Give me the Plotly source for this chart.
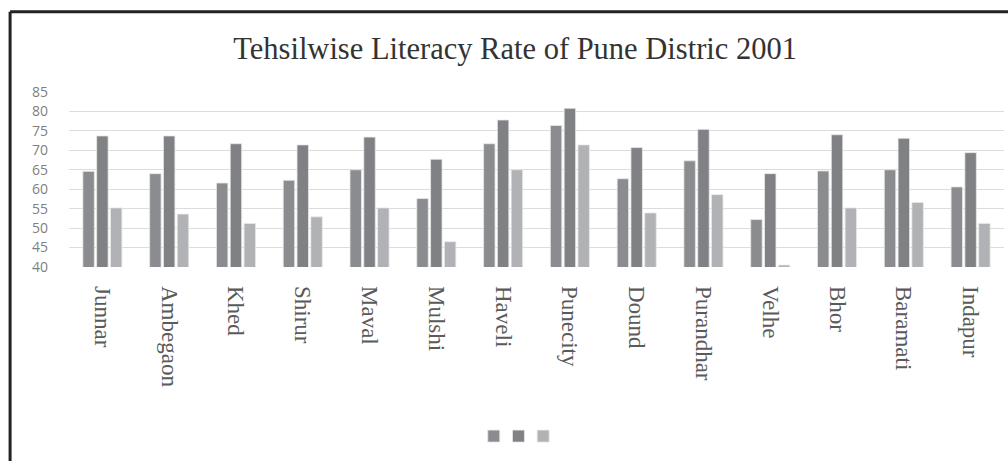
import plotly.graph_objects as go

tehsils = ["Junnar", "Ambegaon", "Khed", "Shirur", "Maval", "Mulshi", "Haveli",
           "Punecity", "Dound", "Purandhar", "Velhe", "Bhor", "Baramati", "Indapur"]
series_a = [64.6, 64.0, 61.6, 62.3, 65.0, 57.6, 71.7, 76.4, 62.7, 67.3, 52.2, 64.7, 65.0, 60.6]
series_b = [73.7, 73.7, 71.7, 71.4, 73.4, 67.7, 77.8, 80.8, 70.7, 75.4, 64.0, 74.0, 73.1, 69.4]
series_c = [55.2, 53.6, 51.2, 52.9, 55.2, 46.5, 65.0, 71.4, 53.9, 58.6, 40.5, 55.2, 56.6, 51.2]
y_ticks = [40, 45, 50, 55, 60, 65, 70, 75, 80, 85]

colors = ["#8b8c90", "#808185", "#b1b2b5"]
legend_ids = ["legend", "legend2", "legend3"]
legend_x = [0.470, 0.4945, 0.519]

fig = go.Figure()
for vals, col, lg in zip([series_a, series_b, series_c], colors, legend_ids):
    fig.add_trace(go.Bar(
        x=tehsils, y=vals, name="", legend=lg,
        marker=dict(color=col, line=dict(color="#e8e8e8", width=0.8)),
    ))

legend_style = dict(
    orientation="h", xref="container", yref="container",
    xanchor="left", y=0.054, yanchor="middle",
    font=dict(size=10), bgcolor="rgba(0,0,0,0)",
)

fig.update_layout(
    width=1008, height=461,
    margin=dict(l=69, r=4, t=92, b=194),
    paper_bgcolor="white", plot_bgcolor="white",
    barmode="group", bargap=0.38, bargroupgap=0.17,
    title=dict(
        text="Tehsilwise Literacy Rate of Pune Distric 2001",
        font=dict(family="Liberation Serif", size=30.5, color="#333333"),
        x=0.511, xanchor="center", y=0.895, yanchor="middle",
    ),
    showlegend=True,
    legend=dict(x=legend_x[0], **legend_style),
    legend2=dict(x=legend_x[1], **legend_style),
    legend3=dict(x=legend_x[2], **legend_style),
    xaxis=dict(
        type="category", tickangle=90, showgrid=False,
        tickfont=dict(family="Liberation Serif", size=23, color="#5a5a5a"),
        ticks="", ticklabelstandoff=18,
        showline=False, zeroline=False,
    ),
    yaxis=dict(
        range=[40, 85], tickvals=y_ticks, showgrid=True,
        gridcolor="#dcdcdc", gridwidth=1,
        tickfont=dict(family="Open Sans", size=14, color="#7f7f7f"),
        ticks="", ticklabelstandoff=20,
        showline=False, zeroline=False,
    ),
)

# frame lines at the top and left edge of the page
fig.add_shape(type="line", xref="paper", yref="paper",
              x0=-0.063, x1=1.01, y0=1.458, y1=1.458,
              line=dict(color="#222222", width=3))
fig.add_shape(type="line", xref="paper", yref="paper",
              x0=-0.063, x1=-0.063, y0=1.458, y1=-1.2,
              line=dict(color="#222222", width=3))

fig.write_html("out.html")
